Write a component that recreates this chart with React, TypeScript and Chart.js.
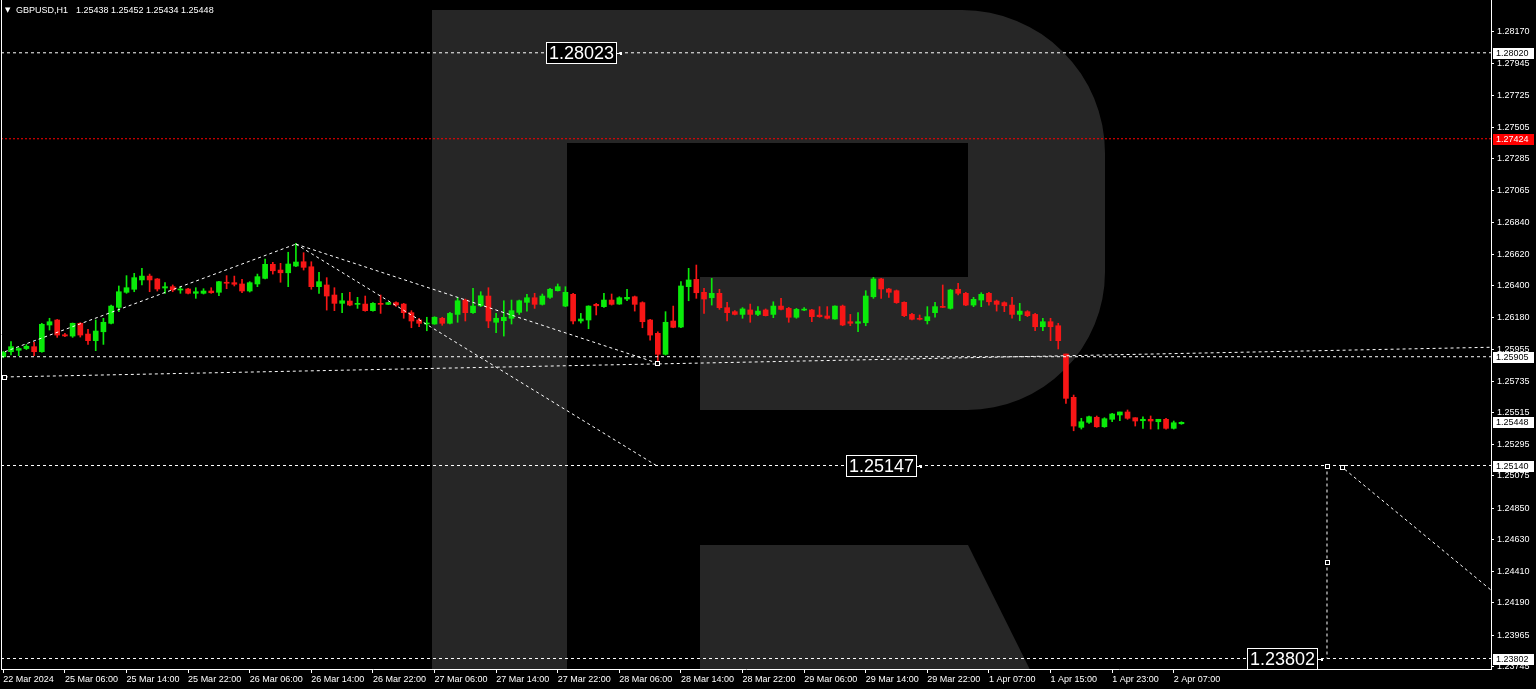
import React, { useEffect, useRef } from "react";
import { Chart, registerables } from "chart.js";

Chart.register(...registerables);

const W = 1536;
const H = 689;
const FONT = '"Liberation Sans", Arial, sans-serif';

// ---------- data (hourly candles, index 0 = 22 Mar 2024 22:00) ----------
const opens = [
  1.25905, 1.25940, 1.25950, 1.25962, 1.25975, 1.25940, 1.26126, 1.26161, 1.26058, 1.26049,
  1.26138, 1.26063, 1.26017, 1.26079, 1.26138, 1.26249, 1.26354, 1.26375, 1.26440, 1.26467,
  1.26447, 1.26384, 1.26393, 1.26370, 1.26377, 1.26347, 1.26347, 1.26363, 1.26354, 1.26424,
  1.26421, 1.26412, 1.26363, 1.26412, 1.26451, 1.26549, 1.26509, 1.26490, 1.26537, 1.26567,
  1.26532, 1.26393, 1.26405, 1.26335, 1.26277, 1.26293, 1.26270, 1.26272, 1.26226, 1.26277,
  1.26270, 1.26282, 1.26272, 1.26212, 1.26161, 1.26133, 1.26133, 1.26173, 1.26138, 1.26200,
  1.26300, 1.26212, 1.26260, 1.26328, 1.26145, 1.26156, 1.26173, 1.26214, 1.26284, 1.26316,
  1.26270, 1.26319, 1.26365, 1.26258, 1.26340, 1.26154, 1.26161, 1.26270, 1.26254, 1.26300,
  1.26272, 1.26307, 1.26323, 1.26282, 1.26161, 1.26068, 1.25922, 1.26154, 1.26112, 1.26393,
  1.26444, 1.26354, 1.26316, 1.26347, 1.26247, 1.26219, 1.26200, 1.26231, 1.26200, 1.26231,
  1.26200, 1.26258, 1.26242, 1.26180, 1.26230, 1.26231, 1.26195, 1.26189, 1.26168, 1.26258,
  1.26149, 1.26138, 1.26142, 1.26323, 1.26447, 1.26377, 1.26365, 1.26284, 1.26200, 1.26173,
  1.26156, 1.26212, 1.26254, 1.26242, 1.26375, 1.26347, 1.26265, 1.26300, 1.26347, 1.26293,
  1.26282, 1.26265, 1.26200, 1.26219, 1.26200, 1.26114, 1.26149, 1.26121, 1.25924, 1.25622,
  1.25413, 1.25448, 1.25483, 1.25417, 1.25469, 1.25499, 1.25520, 1.25480, 1.25459, 1.25469,
  1.25452, 1.25469, 1.25406, 1.25438,
];
const highs = [
  1.25942, 1.26010, 1.25968, 1.25990, 1.26005, 1.26138, 1.26173, 1.26165, 1.26068, 1.26140,
  1.26142, 1.26096, 1.26161, 1.26173, 1.26265, 1.26398, 1.26470, 1.26486, 1.26521, 1.26481,
  1.26450, 1.26421, 1.26405, 1.26393, 1.26382, 1.26386, 1.26379, 1.26386, 1.26430, 1.26470,
  1.26467, 1.26444, 1.26428, 1.26481, 1.26586, 1.26563, 1.26556, 1.26633, 1.26695, 1.26630,
  1.26567, 1.26493, 1.26456, 1.26386, 1.26347, 1.26354, 1.26319, 1.26328, 1.26282, 1.26335,
  1.26284, 1.26287, 1.26277, 1.26226, 1.26173, 1.26180, 1.26184, 1.26180, 1.26214, 1.26316,
  1.26307, 1.26382, 1.26358, 1.26386, 1.26207, 1.26295, 1.26300, 1.26300, 1.26340, 1.26347,
  1.26342, 1.26382, 1.26412, 1.26393, 1.26347, 1.26207, 1.26260, 1.26277, 1.26347, 1.26342,
  1.26323, 1.26375, 1.26328, 1.26288, 1.26166, 1.26079, 1.26219, 1.26258, 1.26428, 1.26521,
  1.26544, 1.26382, 1.26451, 1.26375, 1.26284, 1.26226, 1.26247, 1.26272, 1.26254, 1.26238,
  1.26288, 1.26312, 1.26249, 1.26242, 1.26247, 1.26235, 1.26254, 1.26254, 1.26260, 1.26265,
  1.26200, 1.26212, 1.26365, 1.26458, 1.26451, 1.26382, 1.26370, 1.26288, 1.26207, 1.26196,
  1.26254, 1.26284, 1.26405, 1.26375, 1.26417, 1.26354, 1.26319, 1.26351, 1.26354, 1.26300,
  1.26288, 1.26319, 1.26277, 1.26226, 1.26207, 1.26173, 1.26173, 1.26138, 1.25924, 1.25638,
  1.25476, 1.25492, 1.25492, 1.25480, 1.25510, 1.25520, 1.25534, 1.25480, 1.25487, 1.25492,
  1.25469, 1.25476, 1.25457, 1.25452,
];
const lows = [
  1.25898, 1.25917, 1.25912, 1.25955, 1.25912, 1.25936, 1.26091, 1.26040, 1.26044, 1.26040,
  1.26042, 1.25991, 1.25947, 1.25991, 1.26133, 1.26219, 1.26347, 1.26358, 1.26405, 1.26358,
  1.26363, 1.26347, 1.26358, 1.26347, 1.26342, 1.26312, 1.26342, 1.26347, 1.26330, 1.26379,
  1.26398, 1.26351, 1.26356, 1.26393, 1.26447, 1.26481, 1.26424, 1.26393, 1.26532, 1.26509,
  1.26375, 1.26347, 1.26230, 1.26226, 1.26212, 1.26260, 1.26242, 1.26222, 1.26222, 1.26207,
  1.26268, 1.26256, 1.26173, 1.26107, 1.26114, 1.26086, 1.26131, 1.26124, 1.26133, 1.26145,
  1.26154, 1.26207, 1.26254, 1.26107, 1.26072, 1.26049, 1.26133, 1.26200, 1.26223, 1.26242,
  1.26265, 1.26312, 1.26363, 1.26254, 1.26133, 1.26140, 1.26100, 1.26196, 1.26249, 1.26265,
  1.26270, 1.26295, 1.26223, 1.26107, 1.26021, 1.25870, 1.25917, 1.26107, 1.26107, 1.26295,
  1.26312, 1.26207, 1.26265, 1.26235, 1.26154, 1.26196, 1.26173, 1.26145, 1.26191, 1.26189,
  1.26177, 1.26231, 1.26145, 1.26173, 1.26226, 1.26149, 1.26180, 1.26168, 1.26166, 1.26121,
  1.26121, 1.26079, 1.26121, 1.26312, 1.26312, 1.26319, 1.26277, 1.26184, 1.26161, 1.26161,
  1.26133, 1.26180, 1.26247, 1.26237, 1.26335, 1.26260, 1.26254, 1.26254, 1.26265, 1.26223,
  1.26219, 1.26173, 1.26156, 1.26184, 1.26086, 1.26086, 1.26017, 1.25959, 1.25580, 1.25389,
  1.25401, 1.25441, 1.25413, 1.25413, 1.25452, 1.25459, 1.25469, 1.25422, 1.25406, 1.25401,
  1.25401, 1.25401, 1.25401, 1.25434,
];
const closes = [
  1.25935, 1.25975, 1.25962, 1.25978, 1.25940, 1.26131, 1.26149, 1.26056, 1.26050, 1.26138,
  1.26056, 1.26017, 1.26084, 1.26145, 1.26258, 1.26358, 1.26386, 1.26456, 1.26467, 1.26440,
  1.26377, 1.26393, 1.26370, 1.26375, 1.26347, 1.26358, 1.26363, 1.26351, 1.26428, 1.26417,
  1.26410, 1.26363, 1.26421, 1.26463, 1.26549, 1.26504, 1.26490, 1.26551, 1.26565, 1.26528,
  1.26393, 1.26428, 1.26328, 1.26277, 1.26295, 1.26265, 1.26277, 1.26226, 1.26277, 1.26270,
  1.26282, 1.26265, 1.26212, 1.26154, 1.26138, 1.26140, 1.26180, 1.26138, 1.26207, 1.26295,
  1.26212, 1.26258, 1.26330, 1.26154, 1.26173, 1.26180, 1.26226, 1.26295, 1.26316, 1.26270,
  1.26328, 1.26375, 1.26393, 1.26354, 1.26154, 1.26168, 1.26258, 1.26260, 1.26300, 1.26270,
  1.26316, 1.26319, 1.26270, 1.26149, 1.26056, 1.25922, 1.26145, 1.26110, 1.26398, 1.26440,
  1.26351, 1.26307, 1.26347, 1.26247, 1.26212, 1.26200, 1.26238, 1.26200, 1.26223, 1.26191,
  1.26258, 1.26235, 1.26180, 1.26235, 1.26235, 1.26184, 1.26184, 1.26173, 1.26258, 1.26126,
  1.26138, 1.26149, 1.26328, 1.26447, 1.26377, 1.26354, 1.26282, 1.26191, 1.26166, 1.26166,
  1.26184, 1.26254, 1.26249, 1.26370, 1.26347, 1.26265, 1.26305, 1.26340, 1.26288, 1.26270,
  1.26260, 1.26200, 1.26223, 1.26191, 1.26114, 1.26149, 1.26114, 1.26017, 1.25615, 1.25422,
  1.25452, 1.25487, 1.25417, 1.25473, 1.25506, 1.25520, 1.25476, 1.25457, 1.25469, 1.25457,
  1.25469, 1.25406, 1.25445, 1.25448,
];

const xTickIndex = [0, 8, 16, 24, 32, 40, 48, 56, 64, 72, 80, 88, 96, 104, 112, 120, 128, 136, 144, 152];
const xTickLabels = [
  "22 Mar 2024", "25 Mar 06:00", "25 Mar 14:00", "25 Mar 22:00", "26 Mar 06:00",
  "26 Mar 14:00", "26 Mar 22:00", "27 Mar 06:00", "27 Mar 14:00", "27 Mar 22:00",
  "28 Mar 06:00", "28 Mar 14:00", "28 Mar 22:00", "29 Mar 06:00", "29 Mar 14:00",
  "29 Mar 22:00", "1 Apr 07:00", "1 Apr 15:00", "1 Apr 23:00", "2 Apr 07:00",
];
const yTickValues = [
  1.2817, 1.27945, 1.27725, 1.27505, 1.27285, 1.27065, 1.2684, 1.2662, 1.264, 1.2618, 1.25955,
  1.25735, 1.25515, 1.25295, 1.25075, 1.2485, 1.2463, 1.2441, 1.2419, 1.23965, 1.23745,
];

const symbolTitle = "GBPUSD,H1";

const yMin = 1.237289;
const yMax = 1.283909;
const xMin = -0.3;
const xMax = 193.2;

// horizontal levels
const whiteLevels = [1.28023, 1.25905, 1.25147, 1.23802];
const redLevel = 1.27424;

// trend / forecast segments: [index, price]
const segStart = [[0.2, 1.2594], [38, 1.2669], [38, 1.2669], [0.2, 1.25764], [171.9, 1.25147], [173.6, 1.25147]];
const segEnd = [[38, 1.2669], [84.9, 1.25861], [84.8, 1.25147], [193.2, 1.25971], [171.9, 1.23802], [193.2, 1.24279]];

// anchor markers of the drawn objects: [index, price]
const anchorPoints = [[0.1, 1.25766], [84.9, 1.25861], [171.9, 1.24475], [171.9, 1.25147], [173.8, 1.25140]];

// price labels placed inside the chart
const boxLabelText = ["1.28023", "1.25147", "1.23802"];
const boxLabelIndex = [79.7, 118.7, 170.7];
const boxLabelPrice = [1.28023, 1.25147, 1.23802];

// labels on the price axis
const axisLabelText = ["1.28020", "1.27424", "1.25905", "1.25448", "1.25140", "1.23802"];
const axisLabelPrice = [1.28023, 1.27424, 1.25905, 1.25448, 1.25147, 1.23802];

const BULL = "#0AEA0A";
const BEAR = "#F71616";

function drawLogo(ctx: CanvasRenderingContext2D) {
  ctx.fillStyle = "#262626";
  ctx.beginPath();
  ctx.moveTo(432, 10);
  ctx.lineTo(962, 10);
  ctx.arcTo(1105, 10, 1105, 153, 143);
  ctx.lineTo(1105, 272);
  ctx.arcTo(1105, 410, 967, 410, 138);
  ctx.lineTo(700, 410);
  ctx.lineTo(700, 277);
  ctx.lineTo(968, 277);
  ctx.lineTo(968, 143);
  ctx.lineTo(567, 143);
  ctx.lineTo(567, 700);
  ctx.lineTo(432, 700);
  ctx.closePath();
  ctx.fill();
  ctx.beginPath();
  ctx.moveTo(700, 545);
  ctx.lineTo(968, 545);
  ctx.lineTo(1045, 700);
  ctx.lineTo(700, 700);
  ctx.closePath();
  ctx.fill();
}

const decorPlugin = {
  id: "decor",
  beforeDraw(chart: any) {
    const { ctx, chartArea: a } = chart;
    ctx.save();
    ctx.fillStyle = "#000";
    ctx.fillRect(0, 0, chart.width, chart.height);
    ctx.beginPath();
    ctx.rect(a.left, a.top, a.right - a.left, a.bottom - a.top);
    ctx.clip();
    drawLogo(ctx);
    ctx.restore();
  },
  afterDraw(chart: any) {
    const { ctx, chartArea: a } = chart;
    const xs = chart.scales.x;
    const ys = chart.scales.y;
    ctx.save();
    // left frame line
    ctx.strokeStyle = "#fff";
    ctx.lineWidth = 1;
    ctx.beginPath();
    ctx.moveTo(a.left + 0.5, a.top);
    ctx.lineTo(a.left + 0.5, a.bottom);
    ctx.stroke();

    // title
    const n = closes.length - 1;
    ctx.fillStyle = "#fff";
    ctx.textBaseline = "alphabetic";
    ctx.textAlign = "left";
    ctx.font = `7px "DejaVu Sans", sans-serif`;
    ctx.fillText("\u25BC", 5, 12);
    ctx.font = `9px ${FONT}`;
    const vals = [opens[n], highs[n], lows[n], closes[n]].map((v) => v.toFixed(5)).join(" ");
    ctx.fillText(symbolTitle, 16, 13);
    ctx.fillText(vals, 76, 13);

    // anchor markers
    ctx.fillStyle = "#000";
    ctx.strokeStyle = "#fff";
    anchorPoints.forEach((p) => {
      const px = Math.round(xs.getPixelForValue(p[0]));
      const py = Math.round(ys.getPixelForValue(p[1]));
      ctx.fillRect(px - 2, py - 2, 5, 5);
      ctx.strokeRect(px - 1.5, py - 1.5, 4, 4);
    });

    // in-chart price boxes
    ctx.font = `18px ${FONT}`;
    ctx.textBaseline = "middle";
    for (let i = 0; i < boxLabelText.length; i++) {
      const xr = Math.round(xs.getPixelForValue(boxLabelIndex[i]));
      const yc = Math.round(ys.getPixelForValue(boxLabelPrice[i]));
      const tw = ctx.measureText(boxLabelText[i]).width;
      const bw = Math.round(tw + 6);
      const bh = 22;
      ctx.fillStyle = "#000";
      ctx.fillRect(xr - bw, yc - bh / 2, bw, bh);
      ctx.strokeStyle = "#fff";
      ctx.strokeRect(xr - bw + 0.5, yc - bh / 2 + 0.5, bw - 1, bh - 1);
      ctx.fillStyle = "#fff";
      ctx.textAlign = "center";
      ctx.fillText(boxLabelText[i], xr - bw / 2, yc + 1);
      ctx.fillRect(xr, yc, 3, 1);
      ctx.fillRect(xr + 3, yc - 1, 2, 3);
    }

    // price-axis boxes
    ctx.font = `9px ${FONT}`;
    ctx.textAlign = "left";
    for (let i = 0; i < axisLabelText.length; i++) {
      const yc = Math.round(ys.getPixelForValue(axisLabelPrice[i]));
      const red = axisLabelText[i] === redLevel.toFixed(5);
      ctx.fillStyle = red ? "#FF0000" : "#FFFFFF";
      ctx.fillRect(a.right + 2, yc - 5, 41, 11);
      ctx.fillStyle = red ? "#FFFFFF" : "#000000";
      ctx.fillText(axisLabelText[i], a.right + 5, yc + 1);
    }
    ctx.restore();
  },
};

export default function App() {
  const ref = useRef<HTMLCanvasElement | null>(null);

  useEffect(() => {
    document.body.style.margin = "0";
    document.body.style.background = "#000";
    const canvas = ref.current;
    if (!canvas) return;

    const colors = closes.map((c, i) => (c >= opens[i] ? BULL : BEAR));
    const lineBase = {
      type: "line" as const,
      borderWidth: 1,
      borderDash: [3, 3],
      pointRadius: 0,
      fill: false,
      tension: 0,
      order: 0,
    };

    const datasets: any[] = [];
    whiteLevels.forEach((v) => {
      datasets.push({ ...lineBase, borderColor: "#FFFFFF", data: [{ x: xMin, y: v }, { x: xMax, y: v }] });
    });
    datasets.push({ ...lineBase, borderColor: "#FF0000", borderDash: [2, 2], data: [{ x: xMin, y: redLevel }, { x: xMax, y: redLevel }] });
    segStart.forEach((s, i) => {
      datasets.push({
        ...lineBase,
        borderColor: "#FFFFFF",
        data: [{ x: s[0], y: s[1] }, { x: segEnd[i][0], y: segEnd[i][1] }],
      });
    });
    datasets.push({
      type: "bar",
      order: 2,
      grouped: false,
      barThickness: 1,
      backgroundColor: colors,
      borderWidth: 0,
      data: opens.map((_, i) => ({ x: i, y: [lows[i], highs[i]] })),
    });
    datasets.push({
      type: "bar",
      order: 1,
      grouped: false,
      barThickness: 5,
      minBarLength: 1,
      backgroundColor: colors,
      borderWidth: 0,
      data: opens.map((_, i) => ({ x: i, y: [opens[i], closes[i]] })),
    });

    const chart = new Chart(canvas, {
      type: "bar",
      data: { datasets },
      plugins: [decorPlugin],
      options: {
        responsive: false,
        animation: false,
        devicePixelRatio: 1,
        events: [],
        layout: { padding: { left: 1, top: 0, right: 0, bottom: 0 } },
        plugins: { legend: { display: false }, tooltip: { enabled: false }, title: { display: false } },
        scales: {
          x: {
            type: "linear",
            position: "bottom",
            min: xMin,
            max: xMax,
            offset: false,
            grid: { display: true, drawOnChartArea: false, drawTicks: true, tickLength: 4, color: "#FFFFFF", offset: false },
            border: { display: true, color: "#FFFFFF" },
            ticks: {
              color: "#FFFFFF",
              font: { family: FONT, size: 9 },
              align: "start",
              labelOffset: 0,
              padding: 1,
              maxRotation: 0,
              minRotation: 0,
              autoSkip: false,
              callback: (_v: any, i: number) => xTickLabels[i] ?? "",
            },
            afterBuildTicks: (s: any) => {
              s.ticks = xTickIndex.map((v) => ({ value: v }));
            },
            afterFit: (s: any) => {
              s.height = 20;
              s.paddingLeft = 0;
              s.paddingRight = 0;
            },
          },
          y: {
            type: "linear",
            position: "right",
            min: yMin,
            max: yMax,
            grid: { display: true, drawOnChartArea: false, drawTicks: true, tickLength: 3, color: "#FFFFFF" },
            border: { display: true, color: "#FFFFFF" },
            ticks: {
              color: "#FFFFFF",
              font: { family: FONT, size: 9 },
              padding: 3,
              autoSkip: false,
              callback: (v: any) => Number(v).toFixed(5),
            },
            afterBuildTicks: (s: any) => {
              s.ticks = yTickValues.map((v) => ({ value: v }));
            },
            afterFit: (s: any) => {
              s.width = 45;
              s.paddingTop = 0;
              s.paddingBottom = 0;
            },
          },
        },
      } as any,
    });
    return () => chart.destroy();
  }, []);

  return (
    <div style={{ position: "fixed", left: 0, top: 0, width: W, height: H, background: "#000" }}>
      <canvas ref={ref} width={W} height={H} style={{ display: "block", width: W, height: H }} />
    </div>
  );
}
